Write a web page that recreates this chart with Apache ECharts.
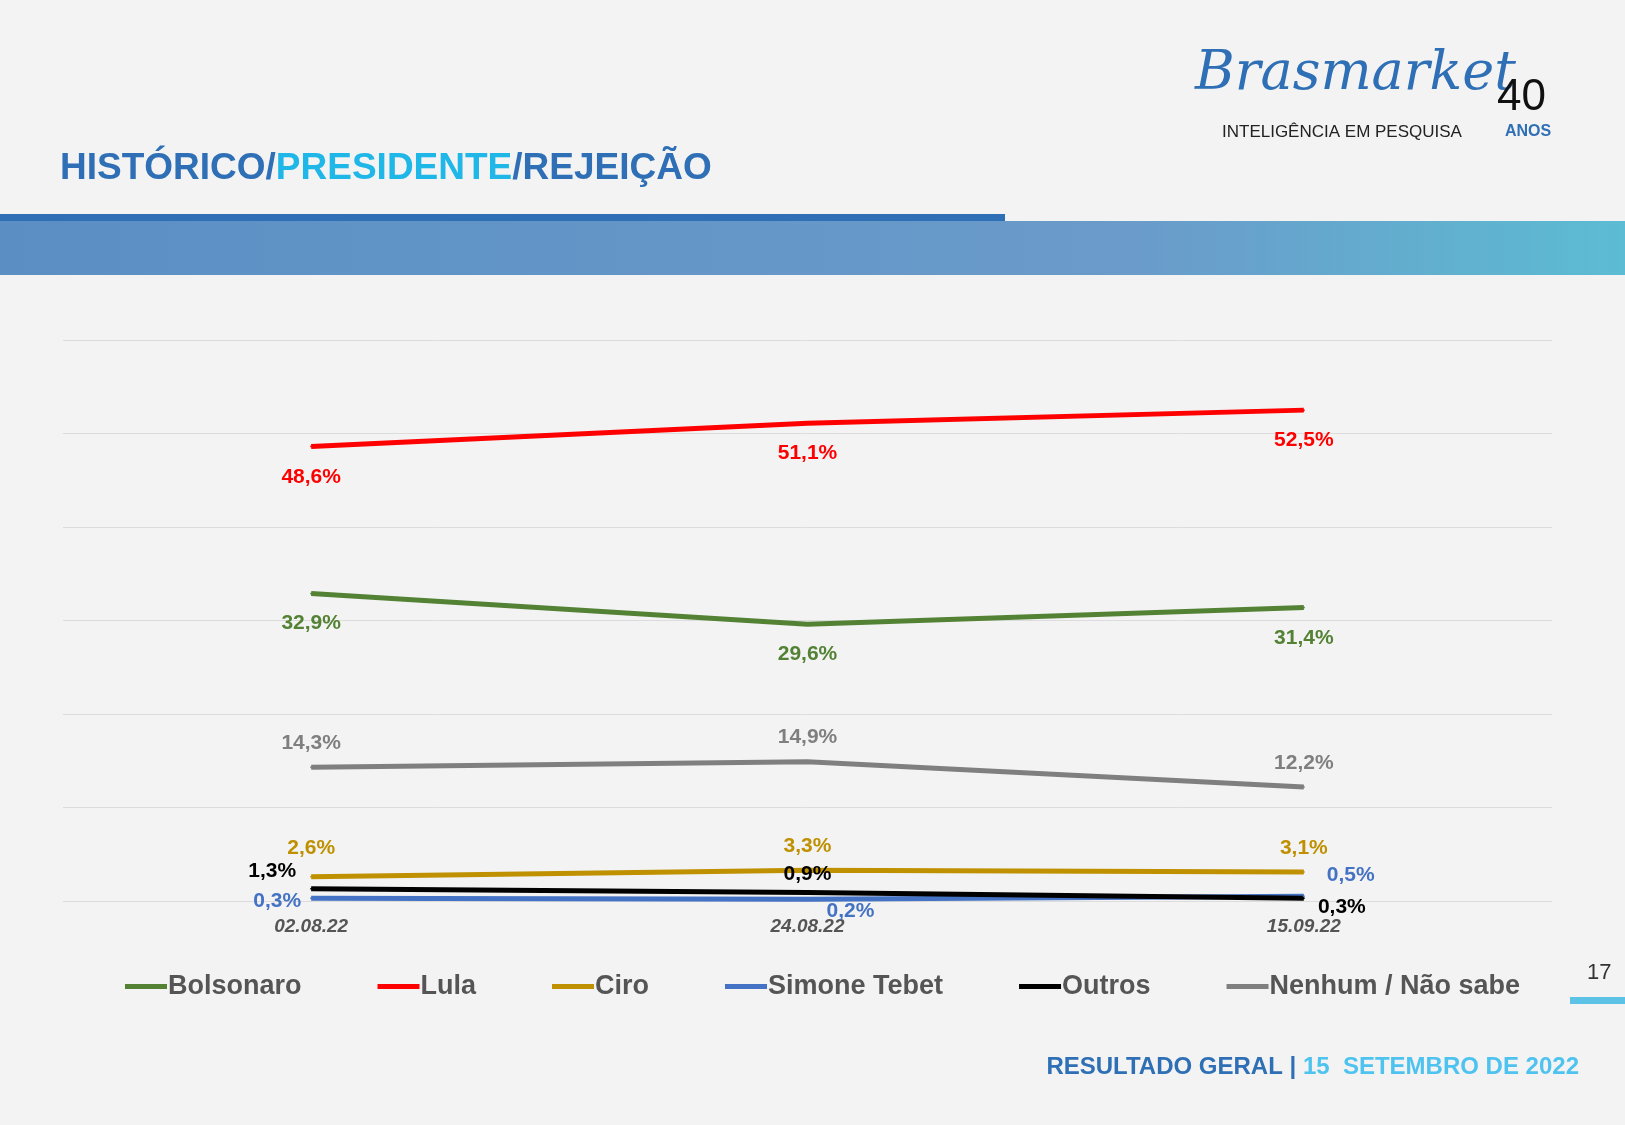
<!DOCTYPE html>
<html>
<head>
<meta charset="utf-8">
<script src="https://cdn.jsdelivr.net/npm/echarts@6/dist/echarts.min.js"></script>
<style>html,body{margin:0;padding:0;background:#f4f4f4;}#main{width:1625px;height:1125px;}</style>
</head>
<body>
<div id="main"></div>
<script>
const dates = ["02.08.22", "24.08.22", "15.09.22"];
const bolsonaro = [32.9, 29.6, 31.4];
const lula = [48.6, 51.1, 52.5];
const ciro = [2.6, 3.3, 3.1];
const tebet = [0.3, 0.2, 0.5];
const outros = [1.3, 0.9, 0.3];
const nenhum = [14.3, 14.9, 12.2];

const fmt = (v) => v.toFixed(1).replace(".", ",") + "%";

// posicao e deslocamento [lado, dx, dy] de cada rotulo
function serie(name, color, vals, places) {
    return {
        name: name,
        type: "line",
        data: vals.map((v, i) => ({ value: v, label: { position: places[i][0] } })),
        symbol: "circle",
        symbolSize: 2,
        showSymbol: true,
        showAllSymbol: true,
        lineStyle: { color: color, width: 5 },
        itemStyle: { color: color },
        label: {
            show: true,
            color: color,
            fontSize: 21,
            fontWeight: 700,
            fontFamily: "Liberation Sans",
            distance: 10,
            formatter: (p) => fmt(p.value)
        },
        labelLayout: (p) => ({ dx: places[p.dataIndex][1], dy: places[p.dataIndex][2], hideOverlap: false }),
        z: 3
    };
}

var myChart = echarts.init(document.getElementById("main"));
var option = {
    backgroundColor: "#f3f3f3",
    legend: {
        bottom: 120,
        left: 120,
        itemGap: 76,
        itemWidth: 42,
        itemHeight: 5,
        icon: "rect",
        textStyle: { fontSize: 27, fontWeight: "bold", color: "#555", fontFamily: "Liberation Sans", padding: [0, 0, 0, -4] },
        data: ["Bolsonaro", "Lula", "Ciro", "Simone Tebet", "Outros", "Nenhum / Não sabe"]
    },
    grid: { left: 63, width: 1489, top: 340, height: 561 },
    xAxis: {
        type: "category",
        data: dates,
        axisLine: { show: false },
        axisTick: { show: false },
        axisLabel: { color: "#555", fontSize: 19, fontWeight: "bold", fontStyle: "italic", margin: 16, fontFamily: "Liberation Sans" }
    },
    yAxis: {
        type: "value",
        min: 0,
        max: 60,
        interval: 10,
        axisLabel: { show: false },
        splitLine: { lineStyle: { color: "#dcdcdc", width: 1 } }
    },
    series: [
        serie("Bolsonaro", "#548235", bolsonaro, [["bottom", 0, 8], ["bottom", 0, 8], ["bottom", 0, 9]]),
        serie("Lula", "#ff0000", lula, [["bottom", 0, 9], ["bottom", 0, 8], ["bottom", 0, 9]]),
        serie("Ciro", "#bf9000", ciro, [["top", 0, -7], ["top", 0, -2], ["top", 0, -2]]),
        serie("Simone Tebet", "#4472c4", tebet, [["left", 1, 3], ["bottom", 43, -9], ["right", 12, -21]]),
        serie("Outros", "#000000", outros, [["left", -4, -18], ["top", 0, 3], ["bottom", 38, -12]]),
        serie("Nenhum / Não sabe", "#7f7f7f", nenhum, [["top", 0, -3], ["top", 0, -3], ["top", 0, -2]])
    ],
    graphic: [
        { type: "rect", shape: { x: 0, y: 214, width: 1005, height: 7 }, style: { fill: "#2e6fb5" } },
        { type: "rect", shape: { x: 0, y: 221, width: 1625, height: 54 },
          style: { fill: new echarts.graphic.LinearGradient(0, 0, 1, 0, [
              { offset: 0, color: "#5b8fc4" }, { offset: 0.7, color: "#6a9bca" }, { offset: 1, color: "#5cbcd3" }]) } },
        { type: "text", left: 60, top: 150,
          style: { rich: { a: { fill: "#2e6fb5", fontSize: 37, fontWeight: "bold", fontFamily: "Liberation Sans" },
                           b: { fill: "#1fb6e8", fontSize: 37, fontWeight: "bold", fontFamily: "Liberation Sans" } },
                   text: "{a|HISTÓRICO/}{b|PRESIDENTE}{a|/REJEIÇÃO}" } },
        { type: "text", left: 1195, top: 48,
          style: { text: "Brasmarket", fill: "#2e6fb5", fontSize: 54, fontStyle: "italic", fontFamily: "DejaVu Serif" } },
        { type: "text", left: 1497, top: 76,
          style: { text: "40", fill: "#111", fontSize: 44, fontFamily: "Liberation Sans" } },
        { type: "text", left: 1222, top: 124,
          style: { text: "INTELIGÊNCIA EM PESQUISA", fill: "#222", fontSize: 17, fontFamily: "Liberation Sans" } },
        { type: "text", left: 1505, top: 124,
          style: { text: "ANOS", fill: "#2e6fb5", fontSize: 16, fontWeight: "bold", fontFamily: "Liberation Sans" } },
        { type: "text", left: 1587, top: 962,
          style: { text: "17", fill: "#333", fontSize: 22, fontFamily: "Liberation Sans" } },
        { type: "rect", shape: { x: 1570, y: 997, width: 55, height: 7 }, style: { fill: "#5cc3e6" } },
        { type: "text", right: 46, top: 1055,
          style: { rich: { a: { fill: "#2e6fb5", fontSize: 24, fontWeight: "bold", fontFamily: "Liberation Sans" },
                           b: { fill: "#4fc3ef", fontSize: 24, fontWeight: "bold", fontFamily: "Liberation Sans" } },
                   text: "{a|RESULTADO GERAL | }{b|15  SETEMBRO DE 2022}" } }
    ]
};
myChart.setOption(option);
</script>
</body>
</html>
